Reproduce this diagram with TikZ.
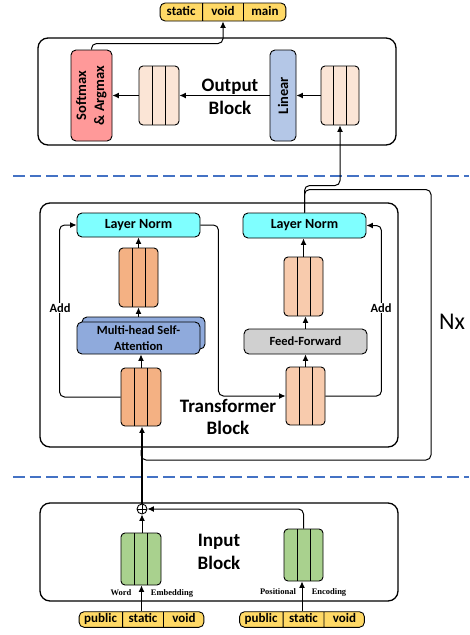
\documentclass[tikz,border=0pt]{standalone}
\usepackage{fontspec}
\setmainfont{Carlito}
\newfontfamily\timesfont{Liberation Serif}
\usepackage{xcolor}
\usetikzlibrary{arrows.meta,calc,shapes.multipart}

\definecolor{tokenyellow}{HTML}{FFD966}
\definecolor{softred}{HTML}{FF9999}
\definecolor{outpeach}{HTML}{FBE5D6}
\definecolor{linblue}{HTML}{B4C7E7}
\definecolor{normcyan}{HTML}{7FFFFF}
\definecolor{attorange}{HTML}{F4B183}
\definecolor{mhablue}{HTML}{8FAADC}
\definecolor{ffpeach}{HTML}{F8CBAD}
\definecolor{ffgray}{HTML}{D0D0D0}
\definecolor{embgreen}{HTML}{A9D18E}
\definecolor{dashblue}{HTML}{4472C4}

\begin{document}
\begin{tikzpicture}[
    x = 1pt, y = -1pt,
    block/.style   = {draw, line width=1.3pt, rounded corners=10pt, inner sep=0pt},
    vector/.style  = {draw, line width=0.9pt, rounded corners=4pt, inner sep=0pt,
                      minimum width=40pt, minimum height=59pt,
                      path picture={\foreach \k in {1,2}
                        \draw[line width=0.9pt]
                          ($(path picture bounding box.north west)!\k/3!(path picture bounding box.north east)$) --
                          ($(path picture bounding box.south west)!\k/3!(path picture bounding box.south east)$);}},
    layer/.style   = {draw, line width=0.9pt, rounded corners=5pt, inner sep=0pt,
                      minimum width=123pt, minimum height=24pt, font=\fontsize{14}{16}\selectfont\bfseries},
    bar/.style     = {draw, line width=0.9pt, rounded corners=5pt, inner sep=0pt,
                      minimum height=91pt, font=\fontsize{14.5}{18}\selectfont\bfseries},
    token/.style   = {draw, line width=0.9pt, fill=tokenyellow, rounded corners=5pt,
                      rectangle split, rectangle split horizontal, rectangle split parts=3,
                      inner xsep=0pt, inner ysep=1.5pt, font=\fontsize{13}{15}\selectfont\bfseries},
    conn/.style    = {draw, line width=1pt, -{Latex[length=6.5pt,width=6pt]}, rounded corners=5pt},
    dashsep/.style = {draw=dashblue, line width=2.8pt, dash pattern=on 11.5pt off 5.2pt},
    title/.style   = {align=center, font=\fontsize{19}{22.5}\selectfont\bfseries},
    addlbl/.style  = {fill=white, inner sep=1pt, font=\fontsize{12.5}{14}\selectfont\bfseries},
    embtxt/.style  = {inner sep=0pt, font=\timesfont\fontsize{8.5}{10}\selectfont\bfseries}
  ]
\useasboundingbox (0,0) rectangle (469,635);

\node[block, minimum width=358pt, minimum height=107pt] (outblk) at (217,91.5) {};
\node[block, minimum width=358pt, minimum height=244pt] (tfblk) at (219,325) {};
\node[block, minimum width=358pt, minimum height=98pt] (inblk) at (219,552) {};

\draw[dashsep] (13,176) -- (469,176);
\draw[dashsep] (13,477) -- (469,477);

\node[token] (tokout) at (223,12)
  {\makebox[42pt]{\strut static}\nodepart{two}\makebox[40pt]{\strut void}\nodepart{three}\makebox[42pt]{\strut main}};
\node[bar, fill=softred, minimum width=41pt] (soft) at (91.5,95.5)
  {\rotatebox{90}{\begin{tabular}{@{}c@{}}Softmax\\\& Argmax\end{tabular}}};
\node[vector, fill=outpeach] (vecl) at (159,95.5) {};
\node[title] (outtxt) at (230,97) {Output\\Block};
\node[bar, fill=linblue, minimum width=26pt] (linear) at (283,95.5) {\rotatebox{90}{Linear}};
\node[vector, fill=outpeach, minimum width=38pt] (vecr) at (340,95.5) {};

\draw[conn] (vecr.west) -- (linear.east);
\draw[conn] (linear.west) -- (vecl.east);
\draw[conn] (vecl.west) -- (soft.east);
\draw[conn] (soft.north) -- ++(0,-6) -| (tokout.south);

\node[layer, fill=normcyan] (ln1) at (138.5,225) {Layer Norm};
\node[layer, fill=normcyan, minimum height=25pt] (ln2) at (304.5,225.5) {Layer Norm};
\node[vector, fill=attorange, minimum width=39pt] (va) at (138.5,277.5) {};
\node[layer, fill=mhablue, minimum height=32pt] (mhaback) at (143.5,333) {};
\node[layer, fill=mhablue, minimum height=32pt, align=center,
      font=\fontsize{12.5}{16}\selectfont\bfseries] (mha) at (138.5,338) {Multi-head Self-\\Attention};
\node[vector, fill=attorange, minimum height=58pt] (vb) at (141,397) {};
\node[vector, fill=ffpeach, minimum width=39pt] (vc) at (303.5,286.5) {};
\node[layer, fill=ffgray, minimum height=25pt,
      font=\fontsize{12.5}{14}\selectfont\bfseries] (ff) at (305.5,341.5) {Feed-Forward};
\node[vector, fill=ffpeach, minimum width=39pt, minimum height=58pt] (vd) at (305.5,396) {};
\node[title] (tftxt) at (228,417) {Transformer\\Block};
\node[font=\fontsize{24}{28}\selectfont] (nx) at (452,322) {Nx};

\draw[conn] (vb.north) -- (vb.north |- mha.south);
\draw[conn] (va.south |- mhaback.north) -- (va.south);
\draw[conn] (va.north) -- (ln1.south);
\draw[conn] (vb.west) -| ([xshift=-17pt]ln1.west) -- (ln1.west);
\draw[conn] (ln1.east) -- ++(18,0) |- (vd.west);
\draw[conn] (vd.north) -- (ff.south);
\draw[conn] (ff.north) -- (ff.north |- vc.south);
\draw[conn] (vc.north) -- (vc.north |- ln2.south);
\draw[conn] (vd.east) -| ([xshift=15pt]ln2.east) -- (ln2.east);
\draw[conn] (ln2.north) -- ++(0,-27) -| (vecr.south);
\coordinate (loop) at (431,460);
\draw[conn, -] (ln2.north) -- ++(0,-23) -| (loop) -| ([yshift=10pt]loop -| vb.south);

\node[addlbl] (addl) at (60,308) {Add};
\node[addlbl] (addr) at (381,308) {Add};

\node[draw, circle, line width=0.9pt, minimum size=10pt, inner sep=0pt,
      path picture={\draw[line width=0.9pt] (path picture bounding box.north) -- (path picture bounding box.south)
                          (path picture bounding box.west) -- (path picture bounding box.east);}] (plus) at (142,509) {};
\node[vector, fill=embgreen, minimum height=52pt] (ga) at (141,559) {};
\node[vector, fill=embgreen, minimum width=39pt, minimum height=52pt] (gb) at (303.5,555) {};
\node[title] (intxt) at (219,552) {Input\\Block};
\node[embtxt] (word) at (121,593) {Word};
\node[embtxt] (emb) at (172,593) {Embedding};
\node[embtxt] (pos) at (278,592) {Positional};
\node[embtxt] (enc) at (329,592) {Encoding};
\node[token, inner ysep=0.3pt] (tokl) at (141.5,619.5)
  {\makebox[43pt]{\strut public}\nodepart{two}\makebox[40pt]{\strut static}\nodepart{three}\makebox[40pt]{\strut void}};
\node[token, inner ysep=0.3pt] (tokr) at (302,619.5)
  {\makebox[43pt]{\strut public}\nodepart{two}\makebox[40pt]{\strut static}\nodepart{three}\makebox[40pt]{\strut void}};

\draw[conn] (tokl.north) -- (tokl.north |- ga.south);
\draw[conn] (tokr.north) -- (tokr.north |- gb.south);
\draw[conn] (plus.south |- ga.north) -- (plus.south);
\draw[conn] (gb.north) |- (plus.east);
\draw[conn, line width=1.3pt] (plus.north) -- (plus.north |- vb.south);
\end{tikzpicture}
\end{document}
